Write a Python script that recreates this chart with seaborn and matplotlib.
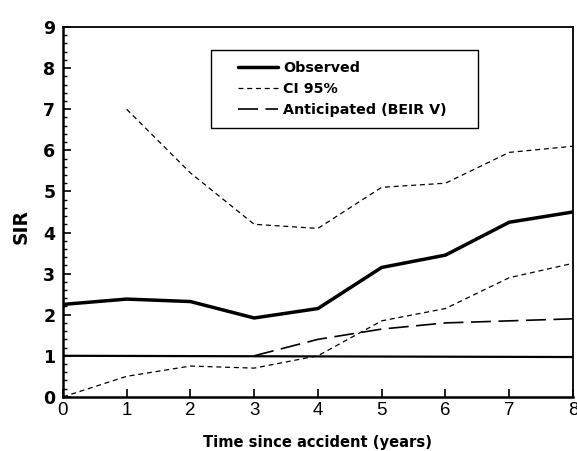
import matplotlib
matplotlib.use("Agg")
import matplotlib.pyplot as plt
from matplotlib.patches import Rectangle
from matplotlib.ticker import MultipleLocator
import seaborn as sns

years = [0, 1, 2, 3, 4, 5, 6, 7, 8]
observed = [2.25, 2.38, 2.32, 1.92, 2.15, 3.15, 3.45, 4.25, 4.5]
ci_upper_years = [1, 2, 3, 4, 5, 6, 7, 8]
ci_upper = [7.0, 5.45, 4.2, 4.1, 5.1, 5.2, 5.95, 6.1]
ci_lower = [0.0, 0.5, 0.75, 0.7, 1.0, 1.85, 2.15, 2.9, 3.25]
anticipated_years = [3, 4, 5, 6, 7, 8]
anticipated = [1.0, 1.4, 1.65, 1.8, 1.85, 1.9]
reference_years = [0, 8]
reference = [1.0, 0.97]

sns.set_theme(style="white")
plt.rcParams["font.family"] = ["Liberation Sans", "DejaVu Sans"]
plt.rcParams["text.color"] = "black"
plt.rcParams["axes.labelcolor"] = "black"
BOLD = "DejaVu Sans"

fig = plt.figure(figsize=(5.77, 4.51), dpi=100)
ax = fig.add_axes([0.109, 0.12, 0.884, 0.82])

sns.lineplot(x=years, y=observed, ax=ax, color="black", lw=2.5,
             label="Observed")
sns.lineplot(x=ci_upper_years, y=ci_upper, ax=ax, color="black", lw=0.9,
             linestyle=(0, (4, 3)), label="CI 95%")
sns.lineplot(x=years, y=ci_lower, ax=ax, color="black", lw=0.9,
             linestyle=(0, (4, 3)))
sns.lineplot(x=anticipated_years, y=anticipated, ax=ax, color="black",
             lw=1.2, linestyle=(0, (12, 4.5)), label="Anticipated (BEIR V)")
sns.lineplot(x=reference_years, y=reference, ax=ax, color="black", lw=1.6)

ax.set_xlim(0, 8)
ax.set_ylim(0, 9)
ax.xaxis.set_major_locator(MultipleLocator(1))
ax.yaxis.set_major_locator(MultipleLocator(1))
ax.yaxis.set_minor_locator(MultipleLocator(0.2))
ax.tick_params(axis="both", which="both", direction="in", bottom=True,
               left=True, top=False, right=False, colors="black")
ax.tick_params(axis="both", which="major", length=6, width=1.2)
ax.tick_params(axis="y", which="minor", length=3, width=1)
ax.tick_params(axis="x", pad=4, labelsize=13.5)
ax.tick_params(axis="y", pad=5.5)
for lab in ax.get_yticklabels():
    lab.set_family(BOLD)
    lab.set_fontweight("bold")
    lab.set_fontsize(12.5)

for sp in ax.spines.values():
    sp.set_color("black")
    sp.set_linewidth(1.3)
ax.spines["left"].set_linewidth(1.8)
ax.spines["bottom"].set_linewidth(1.8)

ax.set_xlabel("Time since accident (years)", fontsize=10.6,
              fontweight="bold", family=BOLD, color="black")
ax.set_ylabel("SIR", fontsize=13.5, fontweight="bold", family=BOLD,
              color="black")
ax.xaxis.label.set_va("center")
ax.yaxis.label.set_va("center")
ax.xaxis.set_label_coords(0.5, -0.124)
ax.yaxis.set_label_coords(-0.082, 0.46)

# legend frame
ax.add_patch(Rectangle((0.290, 0.727), 0.524, 0.211, transform=ax.transAxes,
                       facecolor="white", edgecolor="black", lw=1.0,
                       zorder=4))
leg = ax.legend(loc="upper left", bbox_to_anchor=(0.343, 0.908),
                frameon=False, handlelength=2.8, borderpad=0,
                borderaxespad=0, labelspacing=0.48, handletextpad=0.35,
                prop={"family": BOLD, "weight": "bold", "size": 10.3})
for t in leg.get_texts():
    t.set_color("black")
leg.set_zorder(5)

fig.savefig("out.png", dpi=100)
